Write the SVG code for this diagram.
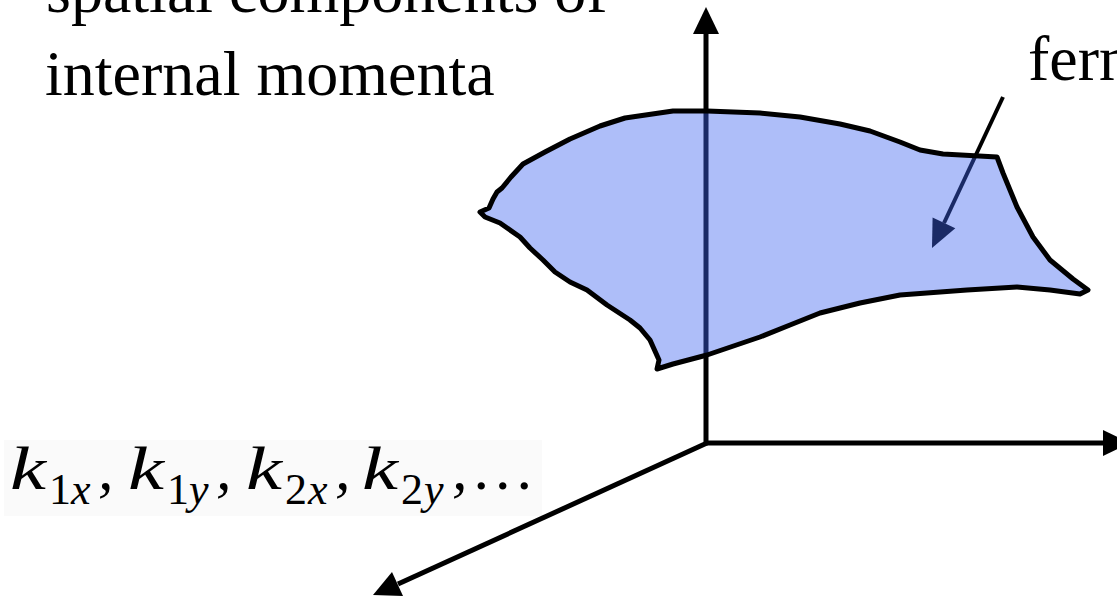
<svg xmlns="http://www.w3.org/2000/svg" width="1117" height="598" viewBox="0 0 1117 598">
<style>
.ttl{font-family:"Liberation Serif","Times New Roman",serif;font-size:64px;fill:#000}
.k{font-family:"Liberation Serif",serif;font-style:italic;font-size:62px;fill:#000}
.sv{font-family:"Liberation Serif",serif;font-style:italic;font-size:44px;fill:#000}
.sd{font-family:"Liberation Serif",serif;font-size:44px;fill:#000}
.ax{stroke:#000;stroke-width:5;fill:none}
.hd{fill:#000}
</style>
<rect width="1117" height="598" fill="#fff"/>
<g id="label-bg"><rect x="4" y="440" width="538" height="76" fill="#fafafa"/></g>
<g id="title">
<text class="ttl" x="46" y="12">spatial components of</text>
<text class="ttl" x="45" y="95">internal momenta</text>
</g>
<g id="ferm-label"><text class="ttl" x="1028" y="80">fermi surface</text></g>
<g id="axes-label">
<text class="k" x="10" y="489" textLength="36" lengthAdjust="spacingAndGlyphs">k</text>
<text class="sd" x="49" y="504">1</text>
<text class="sv" x="71" y="504">x</text>
<text class="k" x="98" y="489">,</text>
<text class="k" x="128" y="489" textLength="36" lengthAdjust="spacingAndGlyphs">k</text>
<text class="sd" x="167" y="504">1</text>
<text class="sv" x="189" y="504">y</text>
<text class="k" x="216" y="489">,</text>
<text class="k" x="246" y="489" textLength="36" lengthAdjust="spacingAndGlyphs">k</text>
<text class="sd" x="285" y="504">2</text>
<text class="sv" x="308" y="504">x</text>
<text class="k" x="335" y="489">,</text>
<text class="k" x="362" y="489" textLength="36" lengthAdjust="spacingAndGlyphs">k</text>
<text class="sd" x="401" y="504">2</text>
<text class="sv" x="424" y="504">y</text>
<text class="k" x="452" y="489">,</text>
<text class="k" x="475" y="489" letter-spacing="6">...</text>
</g>
<g id="connectors">
<line class="ax" x1="706" y1="445" x2="706" y2="30"/>
<polygon class="hd" points="706,7 693,34 719,34"/>
<line class="ax" x1="704" y1="443" x2="1106" y2="443"/>
<polygon class="hd" points="1130,443 1103,430 1103,456"/>
<line class="ax" x1="707" y1="443" x2="398" y2="584"/>
<polygon class="hd" points="373,595 392,572 403,596"/>
<line stroke="#000" stroke-width="4" x1="1003" y1="97" x2="944" y2="223"/>
<polygon class="hd" points="932,248 932.6,217.6 955.3,228.3"/>
</g>
<g id="fermi-surface">
<path d="M480,212 L489,208 L493,199 L497,192 L502,188 L511,177 L523,164 L545,152 L570,139 L600,126 L625,118 L673,111 L707,111 L760,113 L800,117 L840,124 L870,131 L900,142 L920,150 L943,154 L997,157 L1003,173 L1010,190 L1017,207 L1033,237 L1050,260 L1073,279 L1088,290 L1080,294 L1050,290 L1017,287 L967,290 L900,295 L860,303 L820,313 L790,325 L760,337 L707,355 L673,364 L657,369 L659,360 L650,340 L640,328 L630,320 L607,305 L587,290 L570,282 L555,272 L543,260 L530,248 L520,237 L500,223 L485,217 Z" fill="rgb(62,100,240)" fill-opacity="0.42" stroke="#000" stroke-width="5" stroke-linejoin="round"/>
</g>
</svg>
